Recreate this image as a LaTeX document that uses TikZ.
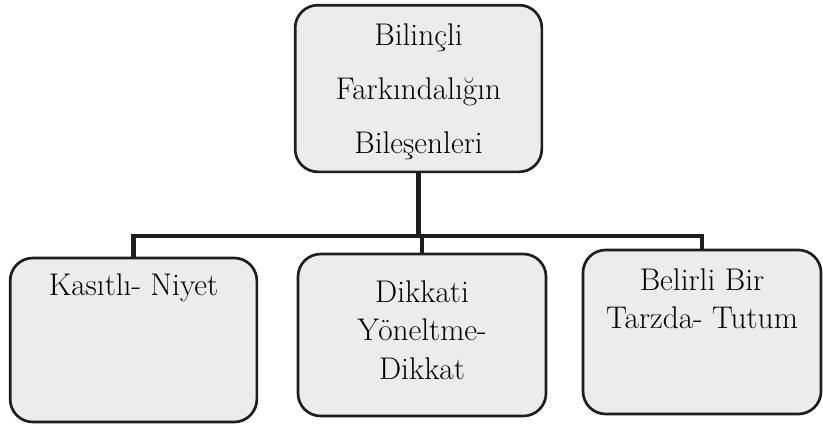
\documentclass[tikz,border=0pt]{standalone}
\usepackage{fontspec}
\usetikzlibrary{positioning}
\definecolor{boxfill}{RGB}{236,236,236}
\definecolor{boxline}{RGB}{30,30,30}
\begin{document}
\begin{tikzpicture}[x=0.75pt,y=0.75pt,yscale=-1,xscale=1,
	box/.style={draw=boxline,fill=boxfill,line width=2pt,rounded corners=17pt,inner sep=0pt},
	txt/.style={inner sep=0pt,align=center,font=\fontsize{23.5}{29}\selectfont},
	link/.style={draw=boxline,line width=3.5pt}]
		\useasboundingbox (0,0) rectangle (823,425);
		% boxes
		\node [box,minimum width=185pt,minimum height=125pt] (bilesen) at (418.5,88.5) {};
		\node [box,minimum width=185pt,minimum height=123pt] (kasit) at (133.5,340) {};
		\node [box,minimum width=186pt,minimum height=121.5pt] (dikkat) at (422,335) {};
		\node [box,minimum width=178.5pt,minimum height=123pt] (tutum) at (702,332) {};
		% texts
		\node [txt,font=\fontsize{23.5}{40.5}\selectfont,below=15pt of bilesen.north] (bilesentxt) {Bilinçli\\Farkındalığın\\Bileşenleri};
		\node [txt,below=12.5pt of kasit.north] (kasittxt) {Kasıtlı- Niyet};
		\node [txt,below=20.5pt of dikkat.north] (dikkattxt) {Dikkati\\Yöneltme-\\Dikkat};
		\node [txt,below=14.5pt of tutum.north] (tutumtxt) {Belirli Bir\\Tarzda- Tutum};
		% connectors
		\coordinate (bus) at (bilesen.south |- 0,236);
		\draw [link] (bilesen.south) -- (bus);
		\draw [link] (kasit.north) |- (bus) -| (tutum.north);
		\draw [link] (bus) -| (dikkat.north);
\end{tikzpicture}
\end{document}
